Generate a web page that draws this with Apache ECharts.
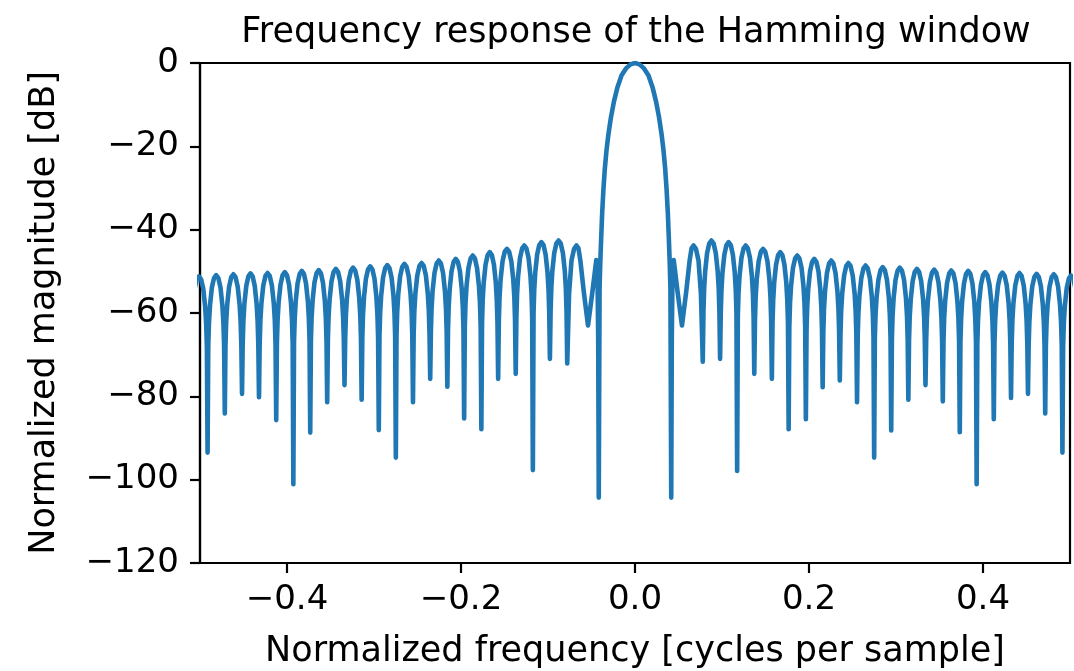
<!DOCTYPE html>
<html>
<head>
<meta charset="utf-8">
<script src="https://cdn.jsdelivr.net/npm/echarts@6/dist/echarts.min.js"></script>
<style>
html,body{margin:0;padding:0;background:#fff;}
#chart{width:1074px;height:671px;}
</style>
</head>
<body>
<div id="chart"></div>
<script>
// ---- texts ----
const chartTitle = 'Frequency response of the Hamming window';
const xName = 'Normalized frequency [cycles per sample]';
const yName = 'Normalized magnitude [dB]';
const xTicks = [-0.4, -0.2, 0, 0.2, 0.4];
const yTicks = [0, -20, -40, -60, -80, -100, -120];

// ---- main lobe (positive half, mirrored for negative frequencies) ----
const mainLobeFreq = [0, 0.0052, 0.01035, 0.01553, 0.02013, 0.02416, 0.02761, 0.03048, 0.03278, 0.03474,
                      0.03635, 0.03773, 0.03888, 0.03992, 0.04072, 0.04164];
const mainLobeDb   = [0, -0.33, -1.3, -3.0, -5.8, -9.2, -13.0, -17.0, -21.0, -25.5,
                      -30.5, -36.0, -42.0, -48.0, -54.0, -104.3];

// ---- region between main-lobe null and first regular side-lobe null (|f|) ----
const nearFreq = [0.0423, 0.0432, 0.0445, 0.0490, 0.0540, 0.0588, 0.0628, 0.0650, 0.0673, 0.0700, 0.0730, 0.0758];
const nearDb   = [-66.0, -49.0, -47.3, -55.0, -63.0, -55.0, -47.4, -44.5, -43.8, -44.6, -47.4, -55.4];

// ---- side-lobe nulls (|f|), inner to outer ----
const nullFreq = [0.0779, 0.0978, 0.1174, 0.1371, 0.1573, 0.1766, 0.1964, 0.2157, 0.2354, 0.2552, 0.2749,
                  0.2945, 0.3142, 0.3339, 0.3538, 0.3733, 0.3927, 0.4124, 0.4322, 0.4517, 0.4715, 0.4913];
const leftNullDb  = [-72.1, -71.0, -97.7, -74.6, -75.8, -87.9, -85.3, -77.7, -75.8, -81.4, -94.7,
                     -88.1, -80.8, -77.3, -81.4, -88.7, -101.1, -85.7, -80.2, -79.4, -84.1, -93.5];
const rightNullDb = [-71.7, -71.0, -97.9, -74.6, -75.8, -87.9, -85.5, -77.8, -76.2, -81.4, -94.7,
                     -88.2, -80.8, -77.3, -81.2, -88.6, -101.1, -85.5, -80.4, -79.4, -84.1, -93.5];

// ---- side-lobe peaks (lobe after each null, inner to outer; last = lobe at the plot edge) ----
const leftPeakDb  = [-42.6, -43.0, -43.8, -44.6, -45.4, -46.2, -47.0, -47.4, -48.0, -48.2, -48.5,
                     -48.8, -49.1, -49.4, -49.7, -49.9, -50.2, -50.4, -50.5, -50.7, -50.9, -51.2];
const rightPeakDb = [-42.6, -43.0, -43.8, -44.6, -45.4, -46.2, -47.0, -47.4, -48.0, -48.6, -49.0,
                     -49.1, -49.4, -49.6, -49.8, -49.9, -50.2, -50.3, -50.4, -50.6, -50.7, -51.0];

// ---- typical side-lobe outline (position across lobe, dB below lobe peak) ----
const lobeShapeFrac = [0.04, 0.08, 0.14, 0.25, 0.375, 0.5, 0.625, 0.75, 0.86, 0.92, 0.96];
const lobeShapeDb   = [-17, -11.5, -7.3, -3, -0.7, 0, -0.7, -3, -7.3, -11.5, -17];

function buildSide(sign, nullDb, peakDb, includeZero) {
  const pts = [];
  mainLobeFreq.forEach((f, i) => { if (f !== 0 || includeZero) pts.push([sign * f, mainLobeDb[i]]); });
  nearFreq.forEach((f, i) => pts.push([sign * f, nearDb[i]]));
  nullFreq.forEach((f, i) => {
    pts.push([sign * f, nullDb[i]]);
    const next = i + 1 < nullFreq.length ? nullFreq[i + 1] : f + (f - nullFreq[i - 1]);
    lobeShapeFrac.forEach((t, j) => pts.push([sign * (f + t * (next - f)), peakDb[i] + lobeShapeDb[j]]));
  });
  return pts;
}

const seriesData = buildSide(-1, leftNullDb, leftPeakDb, false)
  .concat(buildSide(1, rightNullDb, rightPeakDb, true))
  .sort((a, b) => a[0] - b[0]);

const FONT = 'DejaVu Sans';
const minus = s => s.replace('-', '\u2212');

const chart = echarts.init(document.getElementById('chart'), null, {renderer: 'canvas'});
chart.setOption({
  animation: false,
  backgroundColor: '#ffffff',
  title: {
    text: chartTitle,
    left: 631,
    top: 10,
    textAlign: 'center',
    textStyle: {fontFamily: FONT, fontSize: 35, fontWeight: 'normal', color: '#000'}
  },
  grid: {
    left: 200, right: 4, top: 63, bottom: 108,
    show: true, borderColor: '#000', borderWidth: 2.2, backgroundColor: 'transparent',
    containLabel: false,
    outerBoundsMode: 'none'
  },
  xAxis: {
    type: 'value', min: -0.5, max: 0.5,
    name: xName, nameLocation: 'middle', nameGap: 71,
    nameTextStyle: {fontFamily: FONT, fontSize: 35, color: '#000'},
    axisLine: {onZero: false, lineStyle: {color: '#000', width: 2.2}},
    axisTick: {show: true, inside: false, length: 10, customValues: xTicks, lineStyle: {color: '#000', width: 2.2}},
    axisLabel: {customValues: xTicks, margin: 20, fontFamily: FONT, fontSize: 34, color: '#000',
                formatter: v => minus(Number(v).toFixed(1))},
    splitLine: {show: false}
  },
  yAxis: {
    type: 'value', min: -120, max: 0, interval: 20,
    name: yName, nameLocation: 'middle', nameGap: 138, nameRotate: 90,
    nameTextStyle: {fontFamily: FONT, fontSize: 35, color: '#000'},
    axisLine: {show: true, onZero: false, lineStyle: {color: '#000', width: 2.2}},
    axisTick: {show: true, inside: false, length: 10, customValues: yTicks, lineStyle: {color: '#000', width: 2.2}},
    axisLabel: {customValues: yTicks, margin: 21, fontFamily: FONT, fontSize: 34, color: '#000',
                formatter: v => minus(String(v))},
    splitLine: {show: false}
  },
  series: [{
    type: 'line',
    data: seriesData,
    showSymbol: false,
    symbol: 'none',
    clip: true,
    sampling: null,
    lineStyle: {color: '#1f77b4', width: 4.6, join: 'round', cap: 'round'}
  }]
});
</script>
</body>
</html>
